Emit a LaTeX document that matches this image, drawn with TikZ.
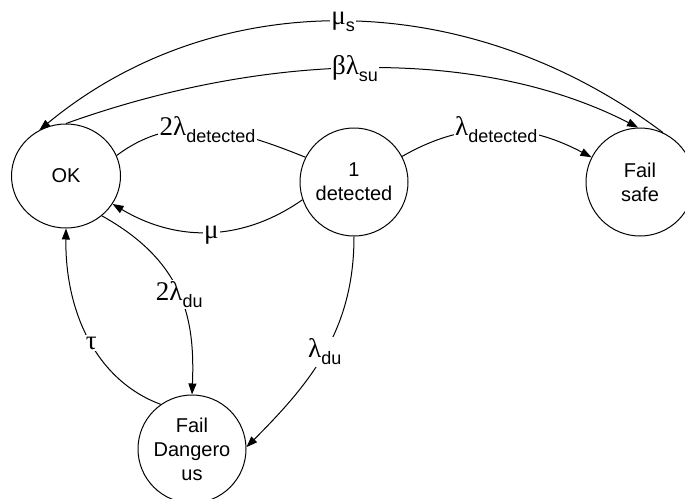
\documentclass[tikz,border=0pt]{standalone}
\usepackage{fontspec}
\setmainfont{Liberation Sans}
\newfontfamily\grk{Liberation Serif}
\usetikzlibrary{shapes.geometric,arrows.meta}
\newcommand{\rlab}[2]{{\fontsize{27}{29}\selectfont\grk #1}\raisebox{-7pt}{\fontsize{18}{20}\selectfont #2}}
\newcommand{\glab}[1]{{\fontsize{27}{29}\selectfont\grk #1}}
\tikzset{
  state/.style={draw,line width=1pt,inner sep=0pt,align=center,font=\fontsize{20}{24}\selectfont},
  circ/.style={state,circle,minimum size=108pt},
  edge/.style={line width=1pt},
  arr/.style={edge,-{Triangle[length=11pt,width=8pt]}},
  lbl/.style={fill=white,inner sep=1.5pt}
}
\begin{document}
\begin{tikzpicture}[x=1pt,y=-1pt]
\useasboundingbox (0,0) rectangle (685,498);
\node[state,ellipse,minimum width=109pt,minimum height=104pt] (ok) at (66,176) {OK};
\node[circ] (det) at (354,182) {1\\detected};
\node[circ] (fs) at (640,182) {Fail\\safe};
\node[circ] (fd) at (192,449) {Fail\\Dangero\\us};

\draw[arr] (fs.65) .. controls (466,-15) and (215,-15) .. (ok.120)
  node[lbl,pos=0.5] {\rlab{μ}{s}};
\draw[arr] (ok.90) .. controls (274,49) and (485,49) .. (fs.92)
  node[lbl,pos=0.47] {\rlab{βλ}{su}};
\draw[edge] (det.153) to[out=158,in=37] node[lbl] {\rlab{2λ}{detected}} (ok.22);
\draw[arr] (det.28) to[out=30,in=152] node[lbl] {\rlab{λ}{detected}} (fs.153);
\draw[arr] (det.199) .. controls (245,240) and (180,244) .. (ok.-31)
  node[lbl,pos=0.5,yshift=-3pt] {\glab{μ}};
\draw[arr] (ok.-48) .. controls (185,262) and (195,320) .. (fd.90)
  node[lbl,pos=0.5] {\rlab{2λ}{du}};
\draw[arr] (fd.125) .. controls (95,380) and (65,310) .. (ok.-90)
  node[lbl,pos=0.47] {\glab{τ}};
\draw[arr] (det.-90) to[out=-90,in=45] node[lbl] {\rlab{λ}{du}} (fd.2);
\end{tikzpicture}
\end{document}
